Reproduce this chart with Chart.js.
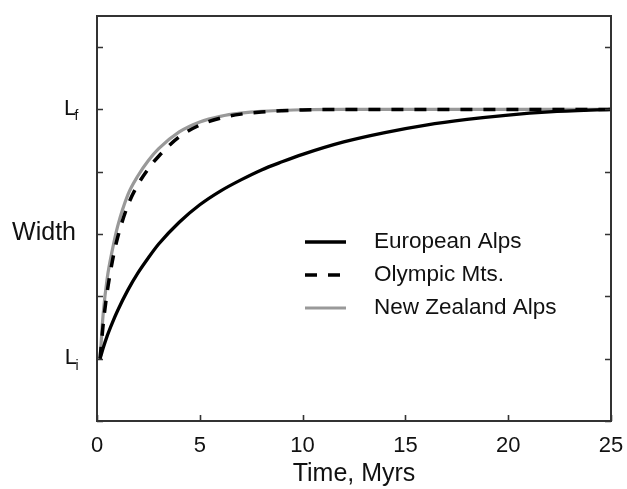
<!DOCTYPE html>
<html><head><meta charset="utf-8">
<script src="https://cdn.jsdelivr.net/npm/chart.js@4"></script>
<style>html,body{margin:0;padding:0;background:#fff}#wrap{width:627px;height:489px}</style>
</head><body><div id="wrap"><canvas id="c" width="627" height="489"></canvas></div>
<script>
// ---- data ----
const times          = [0.15, 0.3, 0.5, 0.75, 1, 1.5, 2, 2.5, 3, 4, 5, 6, 7, 8, 9, 10, 12, 14, 16, 18, 20, 22, 25];
const europeanAlps   = [0, 0.17, 0.37, 0.58, 0.77, 1.1, 1.38, 1.62, 1.84, 2.19, 2.47, 2.69, 2.87, 3.03, 3.16, 3.28, 3.48, 3.63, 3.75, 3.84, 3.91, 3.96, 4.0];
const olympicMts     = [0, 0.55, 1.08, 1.57, 1.94, 2.46, 2.8, 3.05, 3.25, 3.56, 3.75, 3.86, 3.925, 3.96, 3.98, 3.993, 4.0, 4.0, 4.0, 4.0, 4.0, 4.0, 4.0];
const newZealandAlps = [0, 0.72, 1.3, 1.75, 2.12, 2.63, 2.94, 3.18, 3.37, 3.64, 3.8, 3.89, 3.94, 3.97, 3.985, 3.995, 4.0, 4.0, 4.0, 4.0, 4.0, 4.0, 4.0];
const seriesNames    = ['European Alps', 'Olympic Mts.', 'New Zealand Alps'];
const xTicks         = [0, 5, 10, 15, 20, 25];
const yTickValues    = [-1, 0, 1, 2, 3, 4, 5];
const yLabelValues   = [0, 4];
const yLabelMain     = ['L', 'L'];
const yLabelSub      = ['i', 'f'];
const yTitle         = 'Width';
const yTitleValue    = 2;
const xTitle         = 'Time, Myrs';

const FONT = '"Liberation Sans", Arial, Helvetica, sans-serif';
const toPts = arr => times.map((t, i) => ({x: t, y: arr[i]}));

const framePlugin = {
  id: 'frame',
  afterDatasetsDraw(chart) {
    const {ctx, chartArea: a, scales: {x, y}} = chart;
    ctx.save();
    ctx.strokeStyle = '#333';
    ctx.lineWidth = 2;
    ctx.strokeRect(a.left, a.top, a.right - a.left, a.bottom - a.top);
    ctx.lineWidth = 1.6;
    ctx.beginPath();
    yTickValues.forEach(v => {
      const py = Math.round(y.getPixelForValue(v)) + 0.5;
      ctx.moveTo(a.left, py); ctx.lineTo(a.left + 6, py);
      ctx.moveTo(a.right, py); ctx.lineTo(a.right - 6, py);
    });
    xTicks.forEach(v => {
      const px = Math.round(x.getPixelForValue(v)) + 0.5;
      ctx.moveTo(px, a.bottom); ctx.lineTo(px, a.bottom - 6);
    });
    ctx.stroke();

    // y labels with subscripts
    ctx.fillStyle = '#111';
    yLabelValues.forEach((v, i) => {
      const py = y.getPixelForValue(v);
      ctx.font = '22px ' + FONT;
      const lw = ctx.measureText(yLabelMain[i]).width;
      ctx.font = '14px ' + FONT;
      const sw = ctx.measureText(yLabelSub[i]).width;
      const x0 = 78.5 - (lw - 1.5 + sw);
      ctx.textAlign = 'left';
      ctx.textBaseline = 'alphabetic';
      ctx.font = '22px ' + FONT;
      ctx.fillText(yLabelMain[i], x0, py + 5.5);
      ctx.font = '14px ' + FONT;
      ctx.fillText(yLabelSub[i], x0 + lw - 1.5, py + 11);
    });
    ctx.font = '25px ' + FONT;
    ctx.textAlign = 'right';
    ctx.textBaseline = 'middle';
    ctx.fillText(yTitle, 76, y.getPixelForValue(yTitleValue) - 1);

    // legend
    const ly0 = 242, ldy = 33, lx0 = 305, lx1 = 346, tx = 374;
    chart.data.datasets.forEach((ds, i) => {
      const ly = ly0 + i * ldy;
      ctx.save();
      ctx.strokeStyle = ds.borderColor;
      ctx.lineWidth = ds.borderWidth;
      ctx.setLineDash(ds.borderDash || []);
      ctx.beginPath(); ctx.moveTo(lx0, ly); ctx.lineTo(lx1, ly); ctx.stroke();
      ctx.restore();
      ctx.fillStyle = '#111';
      ctx.font = '22.5px ' + FONT;
      ctx.textAlign = 'left';
      ctx.textBaseline = 'middle';
      ctx.fillText(ds.label, tx, ly);
    });
    ctx.restore();
  }
};

new Chart(document.getElementById('c'), {
  type: 'line',
  data: {
    datasets: [
      {label: seriesNames[0], data: toPts(europeanAlps), borderColor: '#000', borderWidth: 3.3, order: 2},
      {label: seriesNames[1], data: toPts(olympicMts), borderColor: '#000', borderWidth: 3.5, borderDash: [12, 11], order: 1},
      {label: seriesNames[2], data: toPts(newZealandAlps), borderColor: '#999', borderWidth: 3.2, order: 3}
    ]
  },
  options: {
    responsive: false,
    animation: false,
    devicePixelRatio: 1,
    layout: {padding: {top: 16, right: 16, left: 0, bottom: 0}},
    elements: {point: {radius: 0}, line: {cubicInterpolationMode: 'monotone', fill: false}},
    plugins: {legend: {display: false}, tooltip: {enabled: false}},
    scales: {
      x: {
        type: 'linear', min: 0, max: 25,
        afterBuildTicks: s => { s.ticks = xTicks.map(v => ({value: v})); },
        afterFit: s => { s.height = 68; s.paddingLeft = 0; s.paddingRight = 0; },
        ticks: {font: {size: 22, family: FONT}, color: '#111', padding: 12, maxRotation: 0},
        grid: {display: false, drawTicks: false},
        border: {display: false},
        title: {display: true, text: xTitle, font: {size: 25, family: FONT}, color: '#111', padding: {top: 0, bottom: 0}}
      },
      y: {
        type: 'linear', min: -1, max: 5.5,
        afterFit: s => { s.width = 97; s.paddingTop = 0; s.paddingBottom = 0; },
        ticks: {display: false, stepSize: 1},
        grid: {display: false, drawTicks: false},
        border: {display: false}
      }
    }
  },
  plugins: [framePlugin]
});
</script>
</body></html>
